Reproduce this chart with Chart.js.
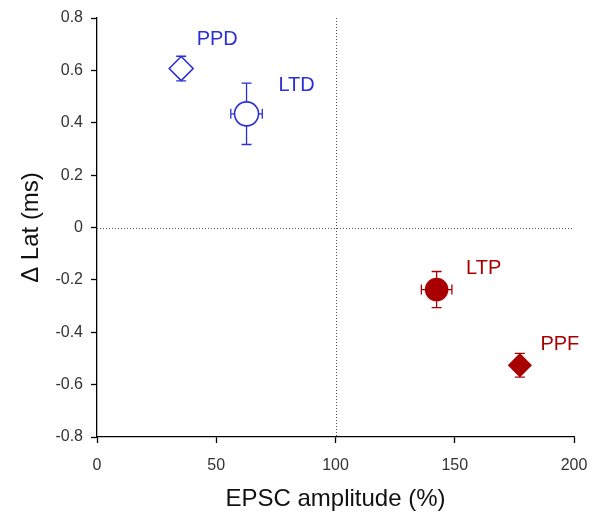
<!DOCTYPE html>
<html>
<head>
<meta charset="utf-8">
<script src="https://cdn.jsdelivr.net/npm/chart.js@4.4.1/dist/chart.umd.min.js"></script>
<style>
  html, body { margin: 0; padding: 0; background: #fff; }
  #grafico { display: block; }
</style>
</head>
<body>
<canvas id="grafico" width="597" height="521"></canvas>
<script>
// dados
const nomes = ['PPD', 'LTD', 'LTP', 'PPF'];
const amplitude = [35.3, 62.7, 142.4, 177.3];   // EPSC amplitude (%)
const erroAmp = [1.5, 6.6, 6.4, 1.5];
const deltaLat = [0.607, 0.434, -0.237, -0.526];  // Δ Lat (ms)
const erroLat = [0.047, 0.117, 0.069, 0.045];
const ticksX = [0, 50, 100, 150, 200];
const ticksY = [-0.8, -0.6, -0.4, -0.2, 0, 0.2, 0.4, 0.6, 0.8];

const AZUL = '#2b2fd6';
const VERMELHO = '#a80000';
const FONTE = '"Liberation Sans", Arial, sans-serif';
const cores = [AZUL, AZUL, VERMELHO, VERMELHO];
const formas = ['rectRot', 'circle', 'circle', 'rectRot'];
const cheio = [false, false, true, true];
const raios = [12, 12, 11, 11];
// deslocamento dos rótulos em pixels (dx, dy)
const offsetsRotulo = [[36, -29], [50, -28], [47, -21], [40, -21]];

const linhasRef = {
    id: 'linhasRef',
    beforeDatasetsDraw(chart) {
        const { ctx, chartArea: a, scales: { x, y } } = chart;
        ctx.save();
        ctx.strokeStyle = '#555';
        ctx.lineWidth = 1;
        ctx.setLineDash([1, 2]);
        const px = Math.round(x.getPixelForValue(100)) + 0.5;
        const py = Math.round(y.getPixelForValue(0)) + 0.5;
        ctx.beginPath();
        ctx.moveTo(px, a.top); ctx.lineTo(px, a.bottom);
        ctx.moveTo(a.left, py); ctx.lineTo(a.right, py);
        ctx.stroke();
        ctx.setLineDash([]);

        // barras de erro
        ctx.lineWidth = 1.3;
        nomes.forEach((n, i) => {
            const cx = x.getPixelForValue(amplitude[i]);
            const cy = y.getPixelForValue(deltaLat[i]);
            const y1 = y.getPixelForValue(deltaLat[i] + erroLat[i]);
            const y2 = y.getPixelForValue(deltaLat[i] - erroLat[i]);
            const x1 = x.getPixelForValue(amplitude[i] - erroAmp[i]);
            const x2 = x.getPixelForValue(amplitude[i] + erroAmp[i]);
            const cap = 5;
            ctx.strokeStyle = cores[i];
            ctx.beginPath();
            ctx.moveTo(cx, y1); ctx.lineTo(cx, y2);
            ctx.moveTo(cx - cap, y1); ctx.lineTo(cx + cap, y1);
            ctx.moveTo(cx - cap, y2); ctx.lineTo(cx + cap, y2);
            ctx.moveTo(x1, cy); ctx.lineTo(x2, cy);
            ctx.moveTo(x1, cy - cap); ctx.lineTo(x1, cy + cap);
            ctx.moveTo(x2, cy - cap); ctx.lineTo(x2, cy + cap);
            ctx.stroke();
        });
        ctx.restore();
    },
    afterDatasetsDraw(chart) {
        const { ctx, scales: { x, y } } = chart;
        ctx.save();
        ctx.font = '20px ' + FONTE;
        ctx.textAlign = 'center';
        ctx.textBaseline = 'middle';
        nomes.forEach((n, i) => {
            const cx = x.getPixelForValue(amplitude[i]);
            const cy = y.getPixelForValue(deltaLat[i]);
            ctx.fillStyle = cores[i];
            ctx.fillText(n, cx + offsetsRotulo[i][0], cy + offsetsRotulo[i][1]);
        });
        ctx.restore();
    }
};

const ctx = document.getElementById('grafico').getContext('2d');
new Chart(ctx, {
    type: 'scatter',
    data: {
        datasets: [{
            data: amplitude.map((v, i) => ({ x: v, y: deltaLat[i] })),
            pointStyle: formas,
            pointRadius: raios,
            pointHoverRadius: raios,
            pointBorderWidth: 1.6,
            pointBorderColor: cores,
            pointBackgroundColor: cores.map((c, i) => cheio[i] ? c : '#fff')
        }]
    },
    options: {
        responsive: false,
        animation: false,
        layout: { padding: { top: 18, right: 23, left: 0, bottom: 0 } },
        plugins: { legend: { display: false }, tooltip: { enabled: false } },
        scales: {
            x: {
                type: 'linear', min: 0, max: 200,
                afterBuildTicks: s => { s.ticks = ticksX.map(v => ({ value: v })); },
                grid: { drawOnChartArea: false, tickLength: 6, tickColor: '#000', tickWidth: 1.3 },
                border: { color: '#000', width: 1.3 },
                ticks: { color: '#333', padding: 13, maxRotation: 0,
                         font: { size: 16, family: FONTE } },
                title: { display: true, text: 'EPSC amplitude (%)', color: '#111',
                         font: { size: 24, family: FONTE },
                         padding: { top: 4, bottom: 7 } },
                afterFit: s => { s.height = 84; s.paddingLeft = 0; s.paddingRight = 0; }
            },
            y: {
                type: 'linear', min: -0.8, max: 0.8,
                afterBuildTicks: s => { s.ticks = ticksY.map(v => ({ value: v })); },
                grid: { drawOnChartArea: false, tickLength: 6, tickColor: '#000', tickWidth: 1.3 },
                border: { color: '#000', width: 1.3 },
                ticks: { color: '#333', padding: 8,
                         callback: v => v === 0 ? '0' : v.toFixed(1),
                         font: { size: 16, family: FONTE } },
                title: { display: true, text: 'Δ Lat (ms)', color: '#111',
                         font: { size: 24, family: FONTE },
                         padding: { top: 17, bottom: 4 } },
                afterFit: s => { s.width = 97; s.paddingTop = 0; s.paddingBottom = 0; }
            }
        }
    },
    plugins: [linhasRef]
});
</script>
</body>
</html>
